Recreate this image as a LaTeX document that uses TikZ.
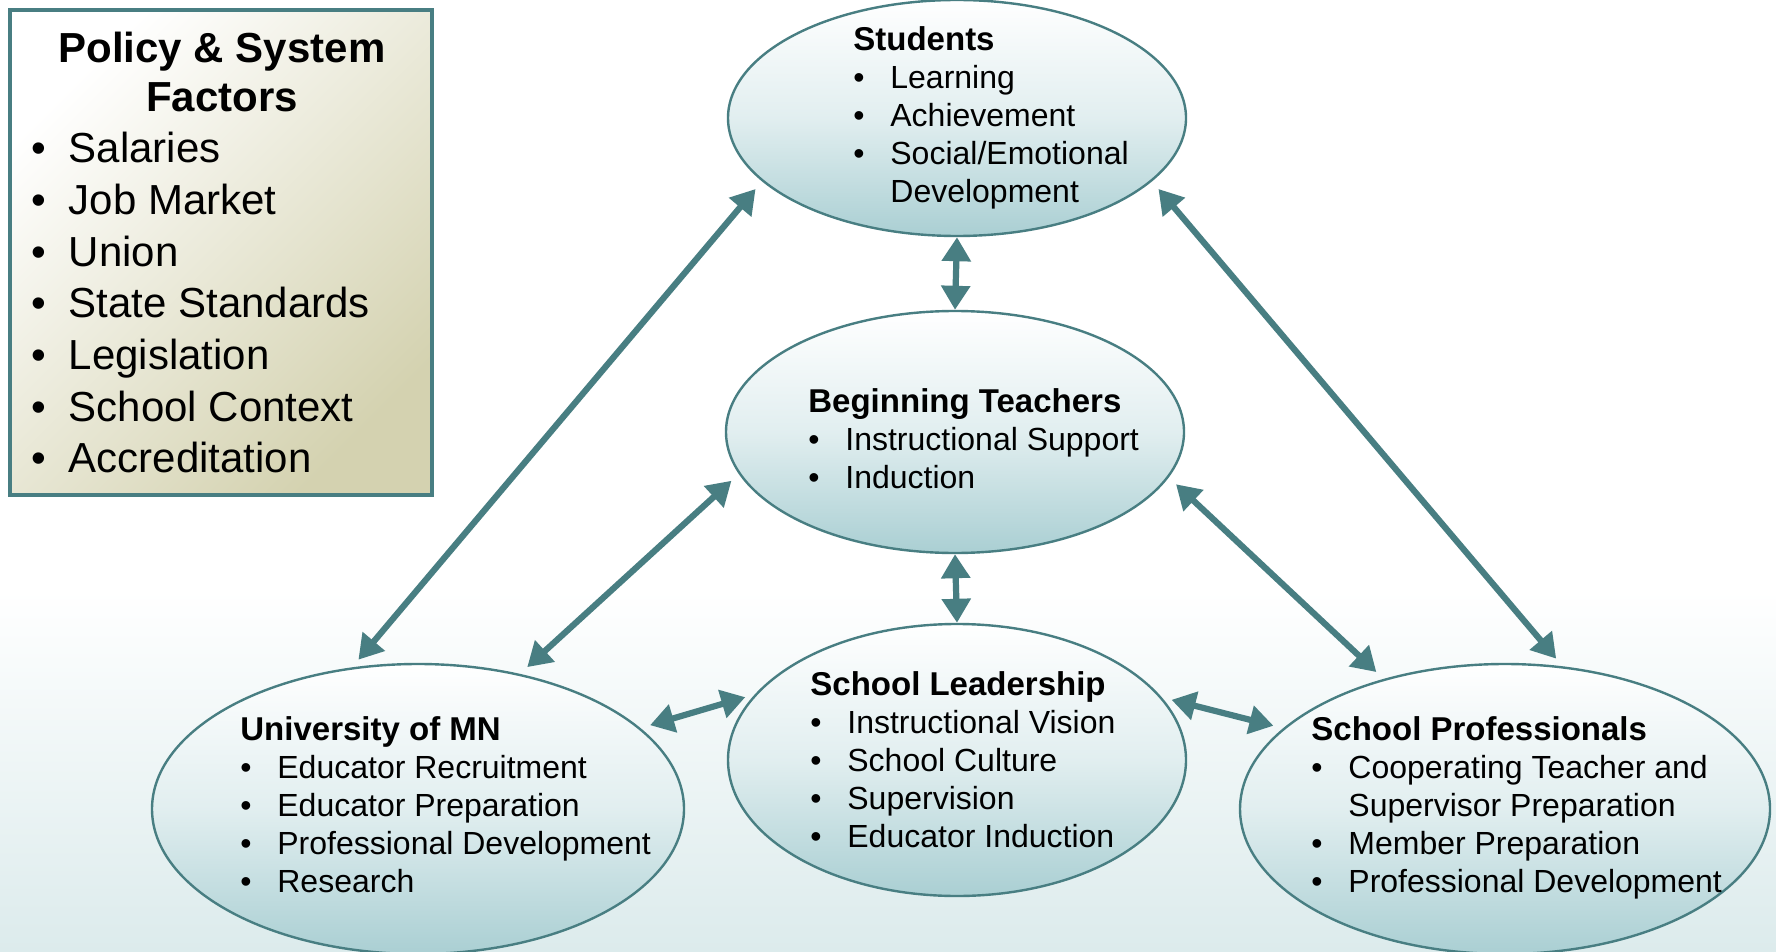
\documentclass[tikz,border=0pt]{standalone}
\usepackage{fontspec}
\setmainfont{Liberation Sans}
\usepackage{tikz}
\usetikzlibrary{shapes.geometric, arrows.meta}
\definecolor{mnteal}{RGB}{72, 126, 130}
\definecolor{mnbubble}{RGB}{170, 207, 211}
\definecolor{mnkhaki}{RGB}{212, 210, 176}
\definecolor{mnbg}{RGB}{220, 235, 236}
\newcommand{\bubhead}[1]{\multicolumn{2}{@{}l@{}}{\bfseries\fontsize{16.5}{19}\selectfont #1}}

\begin{document}
\begin{tikzpicture}[x=0.5pt, y=-0.5pt,
  bubble/.style={ellipse, draw=mnteal, line width=1.2pt, top color=white,
    bottom color=mnbubble, middle color=mnbubble!35, inner sep=0pt},
  bubtext/.style={anchor=base west, inner sep=0pt, font=\fontsize{16}{19}\selectfont},
  link/.style={draw=mnteal, line width=3.1pt,
    {Triangle[length=12pt,width=14pt]}-{Triangle[length=12pt,width=14pt]}},
  gap/.style={shorten <=5pt, shorten >=5pt}]
\useasboundingbox (0,0) rectangle (1776,952);

% background
\fill[white] (0,0) rectangle (1776,952);
\shade[top color=white, bottom color=mnbg] (0,590) rectangle (1776,952);

% ellipses
\node[bubble, minimum width=229pt, minimum height=118pt] (stu) at (957,118) {};
\node[bubble, minimum width=229pt, minimum height=121pt] (bt) at (955,432) {};
\node[bubble, minimum width=229pt, minimum height=136pt] (sl) at (957,760) {};
\node[bubble, minimum width=266pt, minimum height=145pt] (uni) at (418,809) {};
\node[bubble, minimum width=265pt, minimum height=145pt] (sp) at (1505,809) {};

% Students
\node[bubtext] (stulist) at (853,51) {\begin{tabular}[t]{@{}l@{\hspace{12.9pt}}l@{}}
\bubhead{Students}\\
\textbullet & Learning\\
\textbullet & Achievement\\
\textbullet & Social/Emotional\\
 & Development
\end{tabular}};

% Beginning teachers
\node[bubtext] (btlist) at (808,412) {\begin{tabular}[t]{@{}l@{\hspace{12.9pt}}l@{}}
\bubhead{Beginning Teachers}\\
\textbullet & Instructional Support\\
\textbullet & Induction
\end{tabular}};

% School leadership
\node[bubtext] (sllist) at (810,695) {\begin{tabular}[t]{@{}l@{\hspace{12.9pt}}l@{}}
\bubhead{School Leadership}\\
\textbullet & Instructional Vision\\
\textbullet & School Culture\\
\textbullet & Supervision\\
\textbullet & Educator Induction
\end{tabular}};

% University
\node[bubtext] (unilist) at (240,740) {\begin{tabular}[t]{@{}l@{\hspace{12.9pt}}l@{}}
\bubhead{University of MN}\\
\textbullet & Educator Recruitment\\
\textbullet & Educator Preparation\\
\textbullet & Professional Development\\
\textbullet & Research
\end{tabular}};

% School professionals
\node[bubtext] (splist) at (1311,740) {\begin{tabular}[t]{@{}l@{\hspace{12.9pt}}l@{}}
\bubhead{School Professionals}\\
\textbullet & Cooperating Teacher and\\
 & Supervisor Preparation\\
\textbullet & Member Preparation\\
\textbullet & Professional Development
\end{tabular}};

% arrows
\draw[link, gap] (stu.198) -- (uni.115);
\draw[link, gap] (stu.342) -- (sp.68);
\draw[link] (stu.south) -- (bt.north);
\draw[link, gap] (bt.191) -- (uni.53);
\draw[link, gap] (bt.348) -- (sp.133);
\draw[link] (bt.south) -- (sl.north);
\draw[link, gap] (sl.162) -- (uni.20);
\draw[link, gap] (sl.17) -- (sp.160);

% policy box
\node[rectangle, draw=mnteal, line width=1.6pt, left color=white, right color=mnkhaki,
  shading angle=45, minimum width=211pt, minimum height=242.5pt] (policy) at (221,252.5) {};
\node[anchor=base, inner sep=0pt, font=\fontsize{21}{24.5}\selectfont\bfseries] (policyhead) at (222,63)
  {\begin{tabular}[t]{@{}c@{}}Policy \& System\\Factors\end{tabular}};
\node[anchor=base west, inner sep=0pt, font=\fontsize{21}{25.8}\selectfont] (policylist) at (31,163)
  {\begin{tabular}[t]{@{}l@{\hspace{11.3pt}}l@{}}
\textbullet & Salaries\\
\textbullet & Job Market\\
\textbullet & Union\\
\textbullet & State Standards\\
\textbullet & Legislation\\
\textbullet & School Context\\
\textbullet & Accreditation
\end{tabular}};
\end{tikzpicture}
\end{document}
